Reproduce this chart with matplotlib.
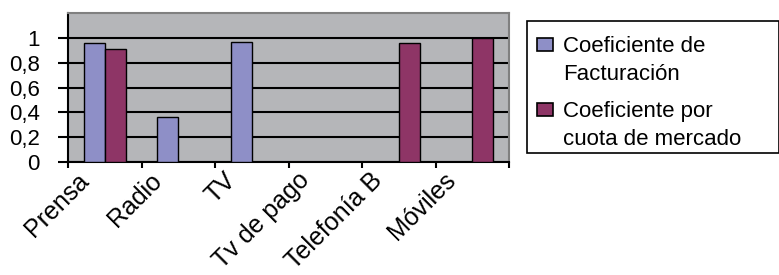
import matplotlib
matplotlib.use("Agg")
import matplotlib.pyplot as plt
import matplotlib.transforms as mtransforms
import matplotlib.patches as mpatches
from matplotlib.legend_handler import HandlerPatch
import numpy as np

categories = ["Prensa", "Radio", "TV", "Tv de pago", "Telefonía B", "Móviles"]
facturacion = [0.96, 0.36, 0.97, 0, 0, 0]
cuota = [0.91, 0, 0, 0, 0.96, 1.0]
series_labels = ["Coeficiente de\nFacturación", "Coeficiente por\ncuota de mercado"]
yticks = [0, 0.2, 0.4, 0.6, 0.8, 1.0]
ytick_labels = ["0", "0,2", "0,4", "0,6", "0,8", "1"]

plt.rcParams['font.family'] = ['Liberation Sans', 'DejaVu Sans']

W, H = 779, 275
fig = plt.figure(figsize=(W/100, H/100), dpi=100)
ax = fig.add_axes([68/W, 1-161.7/H, (509-68)/W, (161.7-13.4)/H])
ax.set_facecolor("#B5B6B9")

x = np.arange(len(categories))
bw = 1/3.5
c1 = "#8E8FC7"
c2 = "#8E3566"
ax.bar(x - bw/2, facturacion, bw, color=c1, edgecolor="black", linewidth=1.0, zorder=3)
ax.bar(x + bw/2, cuota, bw, color=c2, edgecolor="black", linewidth=1.0, zorder=3)

ax.set_xlim(-0.5, len(categories)-0.5)
ax.set_ylim(0, 1.2)
ax.set_yticks(yticks)
ax.set_yticklabels(ytick_labels, fontsize=16)
ax.tick_params(axis='y', length=7.2, width=1.5, pad=13, direction='out')
ax.yaxis.grid(True, color="black", linewidth=1.5, zorder=1)
ax.set_axisbelow(True)

ax.set_xticks(np.arange(len(categories)+1) - 0.5)
ax.set_xticklabels([])
ax.tick_params(axis='x', length=4, width=1.5, direction='out')
offset = mtransforms.ScaledTranslation(-20/100, -15/100, fig.dpi_scale_trans)
for i, c in enumerate(categories):
    ax.text(i, 0, c, transform=ax.get_xaxis_transform() + offset, rotation=45,
            rotation_mode='anchor', ha='right', va='center', fontsize=18)

for s in ['left', 'bottom']:
    ax.spines[s].set_color('black')
    ax.spines[s].set_linewidth(1.5)
for s in ['top', 'right']:
    ax.spines[s].set_color('#808080')
    ax.spines[s].set_linewidth(1.5)

# legend frame
fig.add_artist(mpatches.Rectangle((527/W, 1-153.3/H), (778.5-527)/W, (153.3-21)/H,
                                  transform=fig.transFigure, facecolor='white',
                                  edgecolor='black', linewidth=1.2, zorder=0))

HANDLE_Y_PT = 17.4 * 0.72

def make_rect(legend, orig_handle, xdescent, ydescent, width, height, fontsize):
    return mpatches.Rectangle((-xdescent, HANDLE_Y_PT), width, 13.5 * 0.72)

handles = [mpatches.Patch(facecolor=c1, edgecolor='black', linewidth=1.2),
           mpatches.Patch(facecolor=c2, edgecolor='black', linewidth=1.2)]
leg = fig.legend(handles, series_labels, loc='upper left',
                 bbox_to_anchor=(537/W, 1-36/H), borderaxespad=0,
                 fontsize=16, frameon=False,
                 handlelength=0.72, handleheight=0.61, handletextpad=0.45,
                 labelspacing=0.71, borderpad=0,
                 handler_map={mpatches.Patch: HandlerPatch(patch_func=make_rect)})
for t in leg.get_texts():
    t.set_linespacing(1.45)

fig.savefig("out.png", dpi=100)
